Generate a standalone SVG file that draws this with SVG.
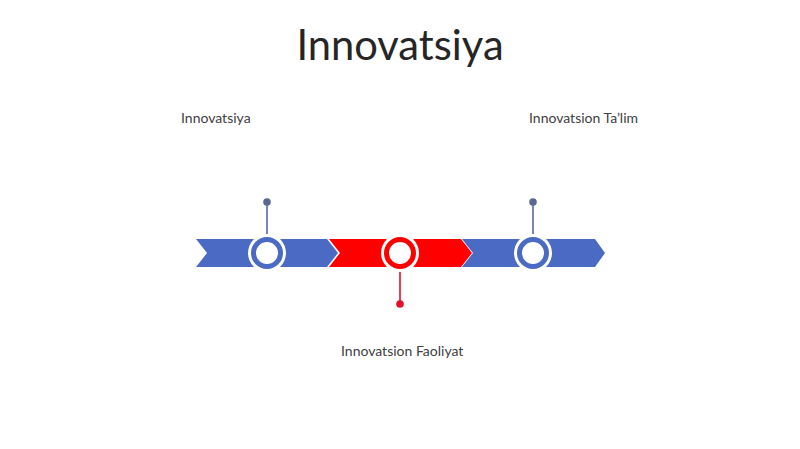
<svg xmlns="http://www.w3.org/2000/svg" width="800" height="449" viewBox="0 0 800 449">
<style>
.t{font-family:Lato,"Open Sans","Liberation Sans",sans-serif;fill:#404040}
.lbl{font-size:14px}
.blue{fill:#4a6ac4}
.red{fill:#fe0000}
.ringb{fill:#ffffff;stroke:#4a6ac4;stroke-width:5}
.ringr{fill:#ffffff;stroke:#fe0000;stroke-width:5}
.halo{fill:#ffffff}
.stemb{stroke:#5b6793;stroke-width:1.6}
.stemr{stroke:#e0102a;stroke-width:1.6}
</style>
<rect width="800" height="449" fill="#ffffff"/>
<text class="t" x="400" y="60" font-size="41.7" text-anchor="middle" style="fill:#262626">Innovatsiya</text>
<g id="connectors">
<line class="stemb" x1="267" y1="202" x2="267" y2="236"/>
<circle cx="267" cy="202" r="3.8" fill="#5b6793"/>
<line class="stemr" x1="400" y1="270" x2="400" y2="304"/>
<circle cx="400" cy="304" r="3.8" fill="#e0102a"/>
<line class="stemb" x1="533" y1="202" x2="533" y2="236"/>
<circle cx="533" cy="202" r="3.8" fill="#5b6793"/>
</g>
<g id="segment1"><polygon class="blue" points="196,239 327,239 338,253 327,267 196,267 207,253"/></g>
<g id="segment2"><polygon class="red" points="329,239 461,239 472,253 461,267 329,267 340,253"/></g>
<g id="segment3"><polygon class="blue" points="462,239 595,239 605,253 595,267 462,267 473,253"/></g>
<g id="node1">
<circle class="halo" cx="267" cy="253" r="19"/>
<circle class="ringb" cx="267" cy="253" r="13.5"/>
<text class="t lbl" x="181" y="123">Innovatsiya</text>
</g>
<g id="node2">
<circle class="halo" cx="400" cy="253" r="19"/>
<circle class="ringr" cx="400" cy="253" r="13.5"/>
<text class="t lbl" x="341" y="356">Innovatsion Faoliyat</text>
</g>
<g id="node3">
<circle class="halo" cx="533" cy="253" r="19"/>
<circle class="ringb" cx="533" cy="253" r="13.5"/>
<text class="t lbl" x="529" y="123">Innovatsion Ta’lim</text>
</g>
</svg>
